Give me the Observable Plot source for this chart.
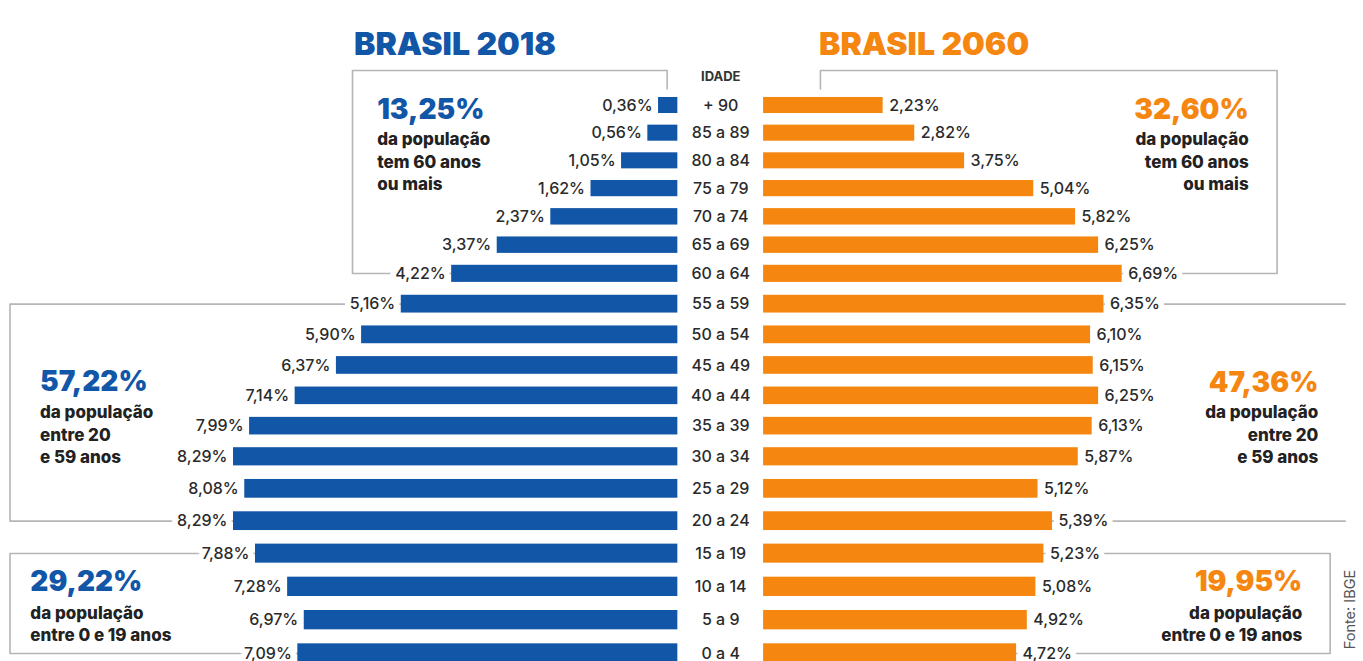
<!DOCTYPE html>
<html>
<head>
<meta charset="utf-8">
<script src="https://cdn.jsdelivr.net/npm/d3@7"></script>
<script src="https://cdn.jsdelivr.net/npm/@observablehq/plot@0.6"></script>
<style>
  html, body { margin: 0; padding: 0; background: #fff; overflow: hidden; }
  #head { position: relative; width: 1363px; height: 60px; }
  #head span { position: absolute; top: 28px; font-family: Inter, sans-serif; font-weight: 900; font-size: 32px; line-height: 1; white-space: nowrap; }
</style>
</head>
<body>
<div id="head">
  <span id="t1" style="left:354px;color:#1256a8">BRASIL 2018</span>
  <span id="t2" style="left:819px;color:#f5860f">BRASIL 2060</span>
</div>
<div id="chart"></div>
<script>
// ---- data ----
const ages = ["+ 90","85 a 89","80 a 84","75 a 79","70 a 74","65 a 69","60 a 64","55 a 59","50 a 54","45 a 49","40 a 44","35 a 39","30 a 34","25 a 29","20 a 24","15 a 19","10 a 14","5 a 9","0 a 4"];
const v2018 = [0.36,0.56,1.05,1.62,2.37,3.37,4.22,5.16,5.90,6.37,7.14,7.99,8.29,8.08,8.29,7.88,7.28,6.97,7.09];
const v2060 = [2.23,2.82,3.75,5.04,5.82,6.25,6.69,6.35,6.10,6.15,6.25,6.13,5.87,5.12,5.39,5.23,5.08,4.92,4.72];
const groupPct2018 = ["13,25%","57,22%","29,22%"];
const groupPct2060 = ["32,60%","47,36%","19,95%"];
const groupText = ["da população\ntem 60 anos\nou mais","da população\nentre 20\ne 59 anos","da população\nentre 0 e 19 anos"];
const groupFirstRow = [0, 7, 15];
const groupLastRow = [6, 14, 18];
const source = "Fonte: IBGE";

// ---- style / layout ----
const blue = "#1256a8", orange = "#f5860f", ink = "#222", grey = "#b5b5b5";
const G = 0.8;            // half gap around the age column, in % units
const fmt = v => v.toFixed(2).replace(".", ",") + "%";

const rows = ages.map((age, i) => ({age, i, a: v2018[i], b: v2060[i]}));

// annotation layout (x in % units, y in row units)
const leftAnn = [
  {x: -6.41, yBig: 0.18, yTxt: 1.99},
  {x: -12.70, yBig: 9.56, yTxt: 11.24},
  {x: -12.88, yBig: 15.87, yTxt: 17.08}
].map((d, k) => ({...d, big: groupPct2018[k], txt: groupText[k]}));
const rightAnn = [
  {x: 9.85, yBig: 0.18, yTxt: 1.99},
  {x: 11.15, yBig: 9.58, yTxt: 11.24},
  {x: 10.85, yBig: 15.87, yTxt: 17.08}
].map((d, k) => ({...d, big: groupPct2060[k], txt: groupText[k]}));

// bracket lines
const endL = i => -(G + v2018[i]);
const endR = i => G + v2060[i];
const brackets = [
  [[-1.0,-0.6],[-1.0,-1.265],[-6.87,-1.265],[-6.87,groupLastRow[0]],[endL(groupLastRow[0]),groupLastRow[0]]],
  [[1.86,-0.6],[1.86,-1.265],[10.38,-1.265],[10.38,groupLastRow[0]],[endR(groupLastRow[0]),groupLastRow[0]]],
  [[endL(groupFirstRow[1]),groupFirstRow[1]],[-13.26,groupFirstRow[1]],[-13.26,groupLastRow[1]],[endL(groupLastRow[1]),groupLastRow[1]]],
  [[endR(groupFirstRow[1]),groupFirstRow[1]],[11.65,groupFirstRow[1]]],
  [[endR(groupLastRow[1]),groupLastRow[1]],[11.65,groupLastRow[1]]],
  [[endL(groupFirstRow[2]),groupFirstRow[2]],[-13.26,groupFirstRow[2]],[-13.26,groupLastRow[2]],[endL(groupLastRow[2]),groupLastRow[2]]],
  [[endR(groupFirstRow[2]),groupFirstRow[2]],[11.37,groupFirstRow[2]],[11.37,groupLastRow[2]],[endR(groupLastRow[2]),groupLastRow[2]]]
].flatMap((pts, id) => pts.map(([x, y]) => ({x, y, id})));

const halo = {stroke: "white", strokeWidth: 12, strokeLinejoin: "round"};

const chart = Plot.plot({
  width: 1363,
  height: 601,
  margin: 0,
  x: {domain: [-13.437, 11.992], axis: null},
  y: {type: "linear", domain: [0, 3, 6, 9, 12, 15, 18], range: [45, 128, 213, 305, 396, 493, 593], axis: null},
  style: {fontFamily: "Inter, sans-serif", background: "white", overflow: "visible"},
  marks: [
    Plot.line(brackets, {x: "x", y: "y", z: "id", stroke: grey, strokeWidth: 1.6, curve: "linear"}),
    // value labels (with white halo that interrupts the bracket lines)
    Plot.text(rows, {x: d => -(G + d.a), y: "i", text: d => fmt(d.a), textAnchor: "end", dx: -6,
      fontSize: 16, fontWeight: 500, fill: "#2a2a2a", ...halo}),
    Plot.text(rows, {x: d => G + d.b, y: "i", text: d => fmt(d.b), textAnchor: "start", dx: 6,
      fontSize: 16, fontWeight: 500, fill: "#2a2a2a", ...halo}),
    // bars
    Plot.rect(rows, {x1: -G, x2: d => -(G + d.a), y1: d => d.i - 0.29, y2: d => d.i + 0.29, fill: blue}),
    Plot.rect(rows, {x1: G, x2: d => G + d.b, y1: d => d.i - 0.29, y2: d => d.i + 0.29, fill: orange}),
    // age column
    Plot.text(rows, {x: 0, y: "i", text: "age", fontSize: 16, fontWeight: 500, fill: "#2a2a2a"}),
    Plot.text(["IDADE"], {x: 0, y: -1.05, text: d => d, fontSize: 13, fontWeight: 700, fill: "#333"}),
    // group annotations
    Plot.text(leftAnn, {x: "x", y: "yBig", text: "big", textAnchor: "start", fontSize: 28, fontWeight: 900, fill: blue}),
    Plot.text(leftAnn, {x: "x", y: "yTxt", text: "txt", textAnchor: "start", lineAnchor: "middle", lineHeight: 1.33, fontSize: 17, fontWeight: 800, fill: ink}),
    Plot.text(rightAnn, {x: "x", y: "yBig", text: "big", textAnchor: "end", fontSize: 28, fontWeight: 900, fill: orange}),
    Plot.text(rightAnn, {x: "x", y: "yTxt", text: "txt", textAnchor: "end", lineAnchor: "middle", lineHeight: 1.33, fontSize: 17, fontWeight: 800, fill: ink}),
    // source
    Plot.text([source], {x: 11.74, y: 16.68, text: d => d, rotate: -90, fontSize: 14.5, fontWeight: 400, fill: "#555"})
  ]
});
document.getElementById("chart").appendChild(chart);
</script>
</body>
</html>
